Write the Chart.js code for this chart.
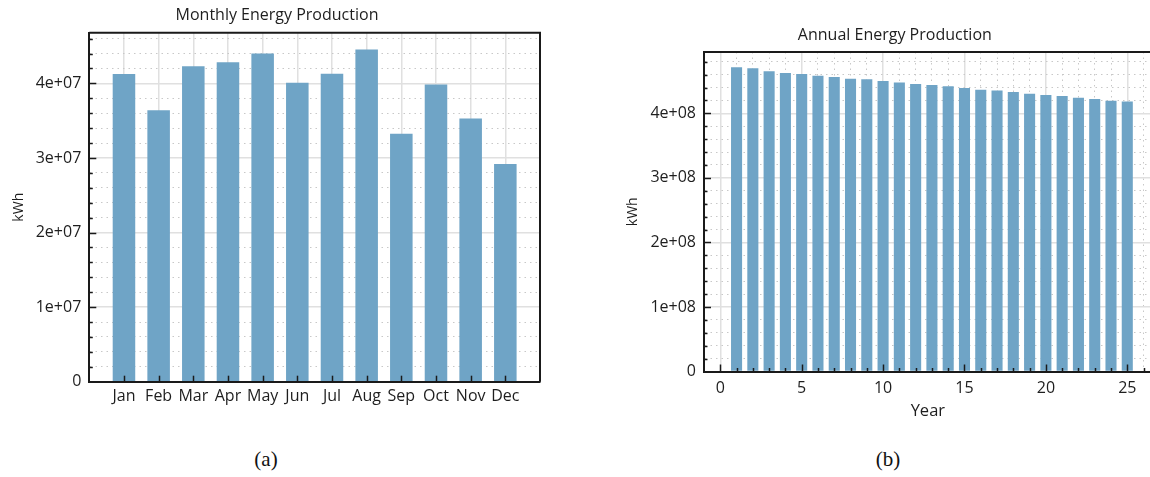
<!DOCTYPE html>
<html><head><meta charset="utf-8">
<script src="https://cdn.jsdelivr.net/npm/chart.js@4"></script>
<style>
html,body{margin:0;padding:0;background:#fff;overflow:hidden;width:1150px;height:477px}
.c{position:absolute;top:0}
#wa{left:0;width:560px;height:420px}
#wb{left:600px;width:560px;height:430px}
.cap{position:absolute;font-family:'Liberation Serif',serif;font-size:21px;color:#111;transform:translate(-50%,-50%);white-space:nowrap}
</style></head><body>
<div id="wa" class="c"><canvas id="ca" width="560" height="420"></canvas></div>
<div id="wb" class="c"><canvas id="cb" width="560" height="430"></canvas></div>
<div class="cap" style="left:266px;top:459px">(a)</div>
<div class="cap" style="left:888px;top:459px">(b)</div>
<script>
const months = ['Jan','Feb','Mar','Apr','May','Jun','Jul','Aug','Sep','Oct','Nov','Dec'];
const monthlyKWh = [4.125e7, 3.64e7, 4.23e7, 4.285e7, 4.40e7, 4.01e7, 4.13e7, 4.455e7, 3.325e7, 3.985e7, 3.53e7, 2.92e7];
const years = [1,2,3,4,5,6,7,8,9,10,11,12,13,14,15,16,17,18,19,20,21,22,23,24,25];
const annualKWh = [4.713e8, 4.698e8, 4.651e8, 4.624e8, 4.608e8, 4.583e8, 4.562e8, 4.536e8, 4.526e8, 4.500e8,
                   4.479e8, 4.453e8, 4.438e8, 4.418e8, 4.391e8, 4.365e8, 4.355e8, 4.329e8, 4.303e8, 4.282e8,
                   4.267e8, 4.241e8, 4.220e8, 4.194e8, 4.184e8];
const monthlyTickLabels = ['0','1e+07','2e+07','3e+07','4e+07'];
const annualTickLabels = ['0','1e+08','2e+08','3e+08','4e+08'];
const yearTickLabels = ['0','5','10','15','20','25'];

const FONT = "'Open Sans', sans-serif";
const TXT = '#1e1e1e';
const BAR = '#6fa4c6';
const MAJ = '#e0e0e0';
const MIN = '#c8c8c8';

function near(v, step){ const r = v/step; return Math.abs(r - Math.round(r)) < 1e-6; }
// build evenly stepped ticks from the axis min up to its max
function stepTicks(step){
  return s => {
    const out = [];
    const n0 = Math.ceil(s.min / step - 1e-9), n1 = Math.floor(s.max / step + 1e-9);
    for (let n = n0; n <= n1; n++) out.push({value: n * step});
    s.ticks = out;
  };
}

function frame(xLen, yLen){
  return {
    id: 'frameTicks',
    afterDraw(chart){
      const {ctx, chartArea: a} = chart;
      const xs = chart.scales.x, ys = chart.scales.y;
      ctx.save();
      ctx.strokeStyle = '#1a1a1a';
      ctx.lineWidth = 1.5;
      xs.ticks.forEach(t => {
        const L = xLen(t.value); if (!L) return;
        const p = Math.round(xs.getPixelForValue(t.value)) + 0.5;
        ctx.beginPath(); ctx.moveTo(p, a.bottom); ctx.lineTo(p, a.bottom - L); ctx.stroke();
      });
      ys.ticks.forEach(t => {
        const L = yLen(t.value); if (!L) return;
        const p = Math.round(ys.getPixelForValue(t.value)) + 0.5;
        ctx.beginPath(); ctx.moveTo(a.left, p); ctx.lineTo(a.left + L, p); ctx.stroke();
      });
      ctx.lineWidth = 2;
      ctx.beginPath(); ctx.moveTo(a.left, a.top); ctx.lineTo(a.right, a.top); ctx.lineTo(a.right, a.bottom); ctx.stroke();
      ctx.restore();
    }
  };
}

Chart.defaults.font.family = FONT;
Chart.defaults.color = TXT;

// ---------- Chart (a) ----------
new Chart(document.getElementById('ca'), {
  type: 'bar',
  data: {
    datasets: [{
      data: months.map((m, i) => ({x: i + 1, y: monthlyKWh[i]})),
      backgroundColor: BAR, borderWidth: 0,
      barPercentage: 0.65, categoryPercentage: 1
    }]
  },
  options: {
    responsive: false, animation: false, devicePixelRatio: 1,
    layout: {padding: {left: 14, right: 20, top: 0, bottom: 0}, autoPadding: false},
    plugins: {
      legend: {display: false}, tooltip: {enabled: false},
      title: {display: true, text: 'Monthly Energy Production', color: TXT,
              font: {family: FONT, size: 16, weight: 'normal'}, padding: {top: 5.9, bottom: 7.6}}
    },
    scales: {
      x: {
        type: 'linear', min: 0, max: 13, offset: false,
        afterBuildTicks: stepTicks(1),
        afterFit: s => { s.height = 38.3; s.paddingLeft = 0; s.paddingRight = 0; },
        ticks: {autoSkip: false, maxRotation: 0, minRotation: 0, padding: 5.2,
                font: {size: 16}, color: TXT,
                callback: v => (v >= 1 && v <= 12 && Number.isInteger(v)) ? months[v - 1] : ''},
        grid: {drawTicks: false, offset: false, lineWidth: 1.5,
               color: c => (c.tick && c.tick.value >= 1 && c.tick.value <= 12) ? MAJ : 'rgba(0,0,0,0)'},
        border: {display: true, color: '#1a1a1a', width: 2}
      },
      y: {
        min: 0, max: 4.68e7,
        afterBuildTicks: stepTicks(2e6),
        afterFit: s => { s.width = 75.3; s.paddingTop = 0; s.paddingBottom = 0; },
        title: {display: true, text: 'kWh', color: TXT, font: {size: 14}, padding: {top: -3, bottom: 0}},
        ticks: {autoSkip: false, padding: 8, font: {size: 16}, color: TXT,
                callback: v => near(v, 1e7) ? monthlyTickLabels[Math.round(v / 1e7)] : ''},
        grid: {drawTicks: false,
               color: c => !c.tick ? MAJ : (near(c.tick.value, 1e7) ? MAJ : MIN),
               lineWidth: c => (c.tick && near(c.tick.value, 1e7)) ? 1.5 : 1},
        border: {display: true, color: '#1a1a1a', width: 2,
                 dash: c => (c.tick && !near(c.tick.value, 1e7)) ? [1.5, 4] : []}
      }
    }
  },
  plugins: [frame(v => (v >= 1 && v <= 12) ? 6 : 0, v => v <= 0 ? 0 : (near(v, 1e7) ? 7 : 3.5))]
});

// ---------- Chart (b) ----------
new Chart(document.getElementById('cb'), {
  type: 'bar',
  data: {
    datasets: [{
      data: years.map((y, i) => ({x: y, y: annualKWh[i]})),
      backgroundColor: BAR, borderWidth: 0,
      barPercentage: 0.68, categoryPercentage: 1
    }]
  },
  options: {
    responsive: false, animation: false, devicePixelRatio: 1,
    layout: {padding: {left: 38, right: 8.3, top: 0, bottom: 9}, autoPadding: false},
    plugins: {
      legend: {display: false}, tooltip: {enabled: false},
      title: {display: true, text: 'Annual Energy Production', color: TXT,
              font: {family: FONT, size: 16, weight: 'normal'}, padding: {top: 25.9, bottom: 6.9}}
    },
    scales: {
      x: {
        type: 'linear', min: -1, max: 26.5, offset: false,
        afterBuildTicks: stepTicks(1),
        afterFit: s => { s.height = 49.5; s.paddingLeft = 0; s.paddingRight = 0; },
        title: {display: true, text: 'Year', color: TXT, font: {size: 16.5}, padding: {top: 0, bottom: 0}},
        ticks: {autoSkip: false, maxRotation: 0, minRotation: 0, padding: 7.4,
                font: {size: 16}, color: TXT,
                callback: v => (v >= 0 && v <= 25 && near(v, 5)) ? yearTickLabels[Math.round(v / 5)] : ''},
        grid: {drawTicks: false, offset: false,
               color: c => (!c.tick || c.tick.value < 0) ? 'rgba(0,0,0,0)' : (near(c.tick.value, 5) ? MAJ : MIN),
               lineWidth: c => (c.tick && near(c.tick.value, 5)) ? 1.5 : 1},
        border: {display: true, color: '#1a1a1a', width: 2,
                 dash: c => (c.tick && !near(c.tick.value, 5)) ? [1.5, 4] : []}
      },
      y: {
        min: 0, max: 4.95e8,
        afterBuildTicks: stepTicks(2e7),
        afterFit: s => { s.width = 66; s.paddingTop = 0; s.paddingBottom = 0; },
        title: {display: true, text: 'kWh', color: TXT, font: {size: 14}, padding: {top: -13.4, bottom: 0}},
        ticks: {autoSkip: false, padding: 8, font: {size: 16}, color: TXT,
                callback: v => near(v, 1e8) ? annualTickLabels[Math.round(v / 1e8)] : ''},
        grid: {drawTicks: false,
               color: c => !c.tick ? MAJ : (near(c.tick.value, 1e8) ? MAJ : MIN),
               lineWidth: c => (c.tick && near(c.tick.value, 1e8)) ? 1.5 : 1},
        border: {display: true, color: '#1a1a1a', width: 2,
                 dash: c => (c.tick && !near(c.tick.value, 1e8)) ? [1.5, 4] : []}
      }
    }
  },
  plugins: [frame(v => (v < 0) ? 0 : (near(v, 5) ? 7 : 3.5), v => v <= 0 ? 0 : (near(v, 1e8) ? 7 : 3.5))]
});
</script>
</body></html>
